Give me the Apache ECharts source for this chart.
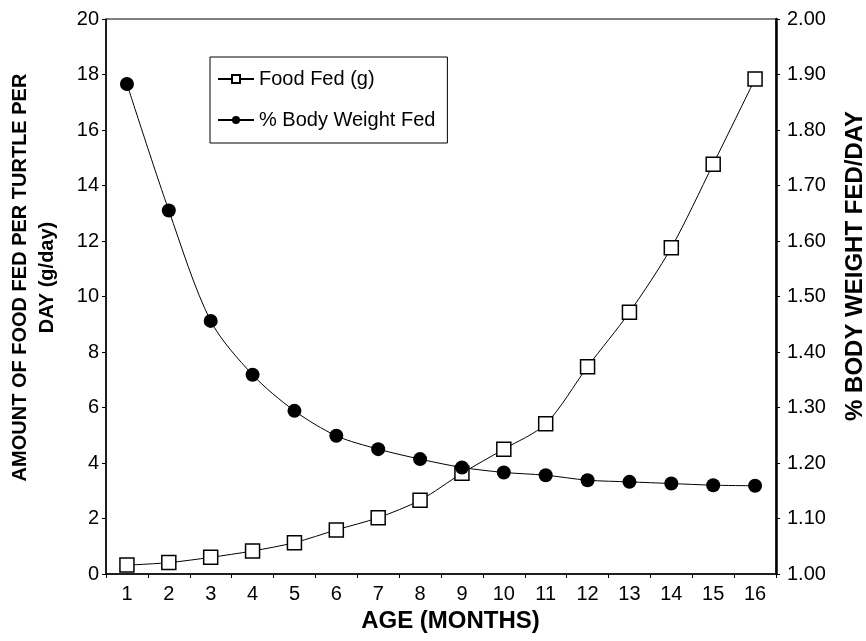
<!DOCTYPE html>
<html>
<head>
<meta charset="utf-8">
<script src="https://cdn.jsdelivr.net/npm/echarts@6/dist/echarts.min.js"></script>
<style>
html,body{margin:0;padding:0;background:#fff;}
#chart{width:866px;height:641px;}
</style>
</head>
<body>
<div id="chart"></div>
<script>
var ages = ['1','2','3','4','5','6','7','8','9','10','11','12','13','14','15','16'];
var foodFed = [0.32, 0.41, 0.60, 0.83, 1.13, 1.59, 2.03, 2.66, 3.63, 4.50, 5.41, 7.47, 9.43, 11.76, 14.77, 17.84];
var bodyWeightFed = [1.883, 1.655, 1.456, 1.359, 1.294, 1.249, 1.225, 1.207, 1.192, 1.183, 1.178, 1.169, 1.166, 1.163, 1.160, 1.159];
var leftTicks = {min: 0, max: 20, interval: 2};
var rightTicks = {min: 1, max: 2, interval: 0.1};

var FONT = 'Liberation Sans, Arial, Helvetica, sans-serif';
var chart = echarts.init(document.getElementById('chart'));
chart.setOption({
  animation: false,
  backgroundColor: '#fff',
  textStyle: {fontFamily: FONT, color: '#000'},
  grid: {left: 106, right: 90, top: 19, bottom: 67, show: true, borderColor: '#000', borderWidth: 1,
         containLabel: false, outerBoundsMode: 'none'},
  legend: {
    orient: 'vertical',
    left: 210, top: 57,
    borderColor: '#000', borderWidth: 1,
    padding: [12, 12, 13, 7],
    itemGap: 21,
    itemWidth: 36, itemHeight: 10,
    textStyle: {fontFamily: FONT, fontSize: 20, color: '#000'},
    data: ['Food Fed (g)', '% Body Weight Fed']
  },
  xAxis: {
    type: 'category',
    data: ages,
    boundaryGap: true,
    name: 'AGE (MONTHS)',
    nameLocation: 'middle',
    nameGap: 34,
    nameTextStyle: {fontFamily: FONT, fontSize: 24, fontWeight: 'bold', color: '#000', padding: [0, 0, 0, 19]},
    axisLine: {lineStyle: {color: '#000', width: 1.5}},
    axisTick: {show: true, length: 4, lineStyle: {color: '#000'}, alignWithLabel: false},
    axisLabel: {fontFamily: FONT, fontSize: 20, color: '#000', margin: 10},
    splitLine: {show: false}
  },
  yAxis: [{
    type: 'value',
    position: 'left',
    min: leftTicks.min, max: leftTicks.max, interval: leftTicks.interval,
    name: 'AMOUNT OF FOOD FED PER TURTLE PER\nDAY (g/day)',
    nameLocation: 'middle',
    nameRotate: 90,
    nameGap: 45,
    nameTextStyle: {fontFamily: FONT, fontSize: 20, fontWeight: 'bold', color: '#000', lineHeight: 27, padding: [0, 0, 0, 38]},
    axisLine: {show: true, lineStyle: {color: '#000', width: 1.5}},
    axisTick: {show: true, length: 4, lineStyle: {color: '#000'}},
    axisLabel: {fontFamily: FONT, fontSize: 20, color: '#000', margin: 7},
    splitLine: {show: false}
  }, {
    type: 'value',
    position: 'right',
    min: rightTicks.min, max: rightTicks.max, interval: rightTicks.interval,
    name: '% BODY WEIGHT FED/DAY',
    nameLocation: 'middle',
    nameRotate: 90,
    nameGap: 67,
    nameTextStyle: {fontFamily: FONT, fontSize: 24, fontWeight: 'bold', color: '#000', padding: [0, 0, 0, 61]},
    axisLine: {show: true, lineStyle: {color: '#000', width: 2.5}},
    axisTick: {show: true, length: 4, lineStyle: {color: '#000'}},
    axisLabel: {fontFamily: FONT, fontSize: 20, color: '#000', margin: 11, formatter: function (v) { return v.toFixed(2); }},
    splitLine: {show: false}
  }],
  series: [{
    name: 'Food Fed (g)',
    type: 'line',
    yAxisIndex: 0,
    data: foodFed,
    smooth: 0.3,
    symbol: 'rect',
    symbolSize: 14,
    lineStyle: {color: '#000', width: 1},
    itemStyle: {color: '#fff', borderColor: '#000', borderWidth: 1.5},
    z: 3
  }, {
    name: '% Body Weight Fed',
    type: 'line',
    yAxisIndex: 1,
    data: bodyWeightFed,
    smooth: 0.3,
    symbol: 'circle',
    symbolSize: 14,
    lineStyle: {color: '#000', width: 1},
    itemStyle: {color: '#000', borderColor: '#000', borderWidth: 0},
    z: 4
  }]
});
</script>
</body>
</html>
